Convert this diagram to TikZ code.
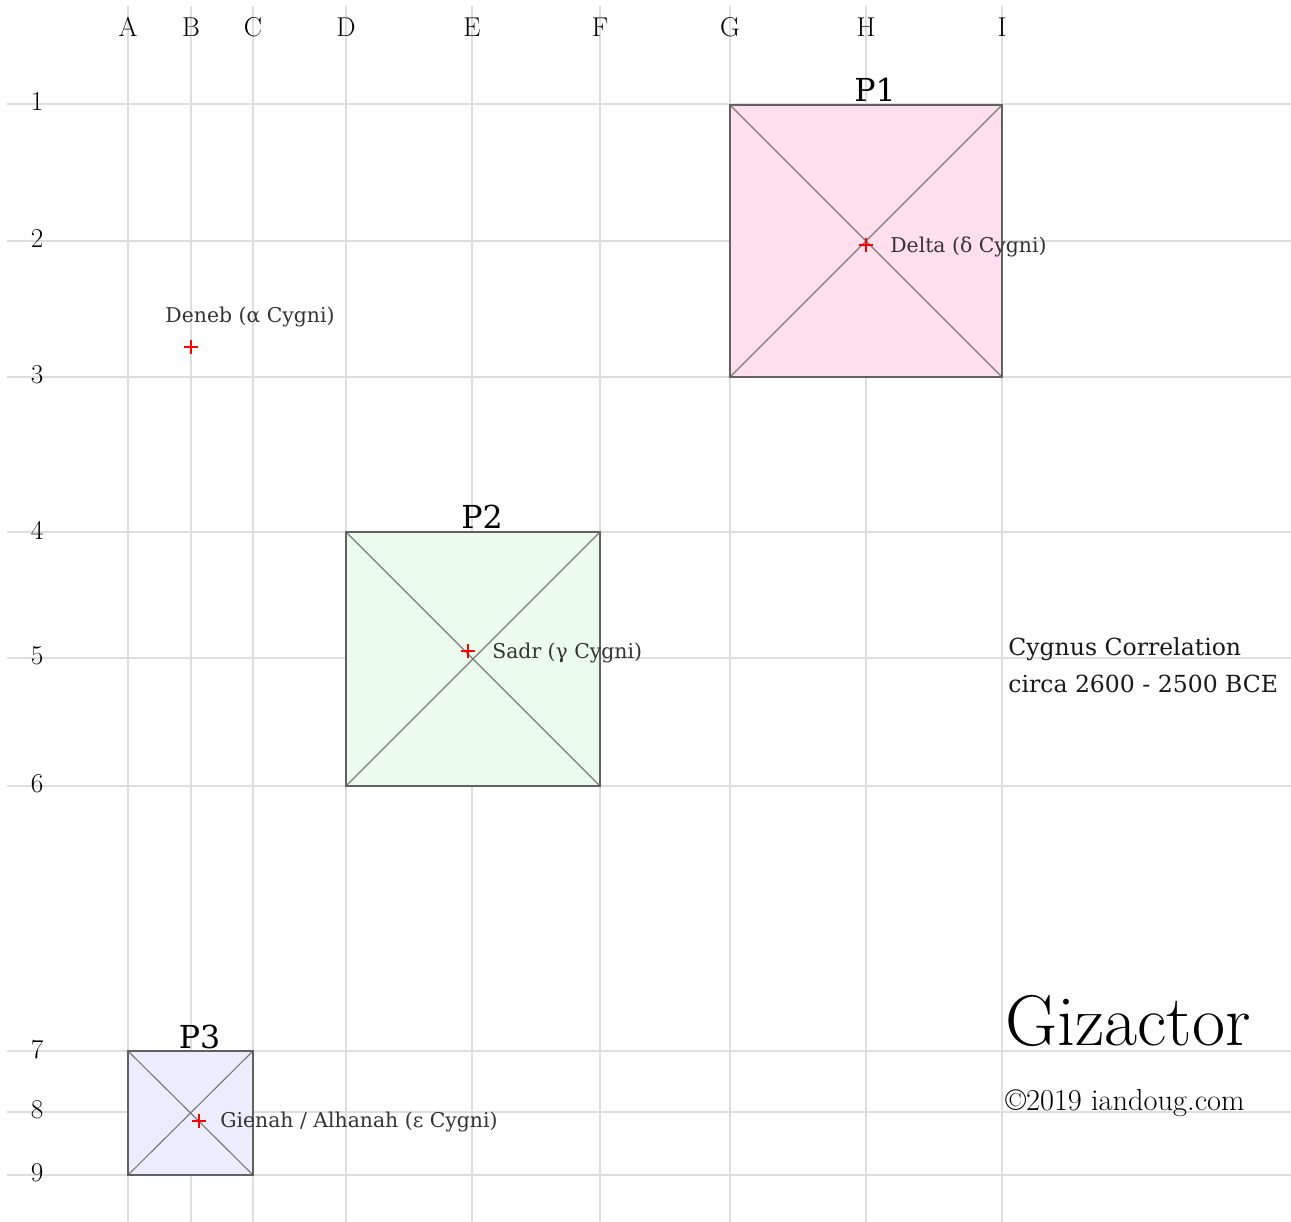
\documentclass[tikz,border=0pt]{standalone}
\usepackage{fontspec}
\newfontfamily\starfont{DejaVu Serif}
\usepackage{tikz}
\usetikzlibrary{shapes.misc, positioning}
\definecolor{pinkfill}{RGB}{255,222,238}
\definecolor{greenfill}{RGB}{236,252,236}
\definecolor{bluefill}{RGB}{236,236,252}

\begin{document}
\begin{tikzpicture}[
        x=0.02cm, y=-0.02cm,
        gridline/.style = {draw=black!13, line width=0.8pt},
        axislabel/.style = {font=\fontsize{15.5}{17}\selectfont, inner sep=0pt},
        pyramid/.style = {draw=black!62, line width=0.9pt},
        diagonal/.style = {draw=black!52, line width=0.65pt},
        starmark/.style = {cross out, draw=red, line width=0.9pt, minimum size=0.17cm, inner sep=0pt, rotate=45},
        starlabel/.style = {font=\starfont\fontsize{11.6}{13}\selectfont, text=black!80, inner sep=0pt},
        plabel/.style = {font=\starfont\fontsize{18}{20}\selectfont, anchor=base, inner sep=0pt},
        notetext/.style = {font=\starfont\fontsize{13.4}{16}\selectfont, text=black!90, anchor=base west, inner sep=0pt}
    ]
    \useasboundingbox (0,0) rectangle (1291,1222);

    % grid with column and row labels
    \foreach \gx/\glabel in {128/A, 191/B, 253/C, 346/D, 472/E, 600/F, 730/G, 866/H, 1002/I} {
        \draw[gridline] (\gx,6) -- (\gx,1222);
        \node[axislabel] (col\glabel) at (\gx,27) {\glabel};
    }
    \foreach \gy/\glabel in {104/1, 241/2, 377/3, 532/4, 658/5, 786/6, 1051/7, 1112/8, 1175/9} {
        \draw[gridline] (7,\gy) -- (1291,\gy);
        \node[axislabel] (row\glabel) at (37,\gy-2) {\glabel};
    }

    % pyramids
    \foreach \pname/\xa/\ya/\xb/\yb/\pcol in {P1/730/105/1002/377/pinkfill, P2/346/532/600/786/greenfill, P3/128/1051/253/1175/bluefill} {
        \coordinate (\pname-nw) at (\xa,\ya);
        \coordinate (\pname-se) at (\xb,\yb);
        \fill[\pcol] (\pname-nw) rectangle (\pname-se);
        \draw[diagonal] (\pname-nw) -- (\pname-se) (\pname-nw |- \pname-se) -- (\pname-se |- \pname-nw);
        \draw[pyramid] (\pname-nw) rectangle (\pname-se);
        \node[plabel] (\pname) at ({(\xa+\xb)/2+9},\ya-3) {\pname};
    }

    % stars
    \node[starmark] (deneb) at (191,347) {};
    \node[starlabel] (denebtext) at (250,317) {Deneb (α Cygni)};

    \node[starmark] (delta) at (866,245) {};
    \node[starlabel, right=0.48cm of delta.center, yshift=-0.04cm] (deltatext) {Delta (δ Cygni)};

    \node[starmark] (sadr) at (468,651) {};
    \node[starlabel, right=0.48cm of sadr.center, yshift=-0.05cm] (sadrtext) {Sadr (γ Cygni)};

    \node[starmark] (gienah) at (199,1121) {};
    \node[starlabel, right=0.42cm of gienah.center, yshift=-0.03cm] (gienahtext) {Gienah / Alhanah (ε Cygni)};

    % notes
    \node[notetext] (corr1) at (1008,655) {Cygnus Correlation};
    \node[notetext] (corr2) at (1008,692) {circa 2600 - 2500 BCE};
    \node[font=\fontsize{40.9}{44}\selectfont, anchor=base west, inner sep=0pt] (brand) at (1005,1045) {Gizactor};
    \node[font=\fontsize{17.3}{20}\selectfont, anchor=base west, inner sep=0pt] (credit) at (1005,1110) {\textcopyright{}2019 iandoug.com};

\end{tikzpicture}
\end{document}
